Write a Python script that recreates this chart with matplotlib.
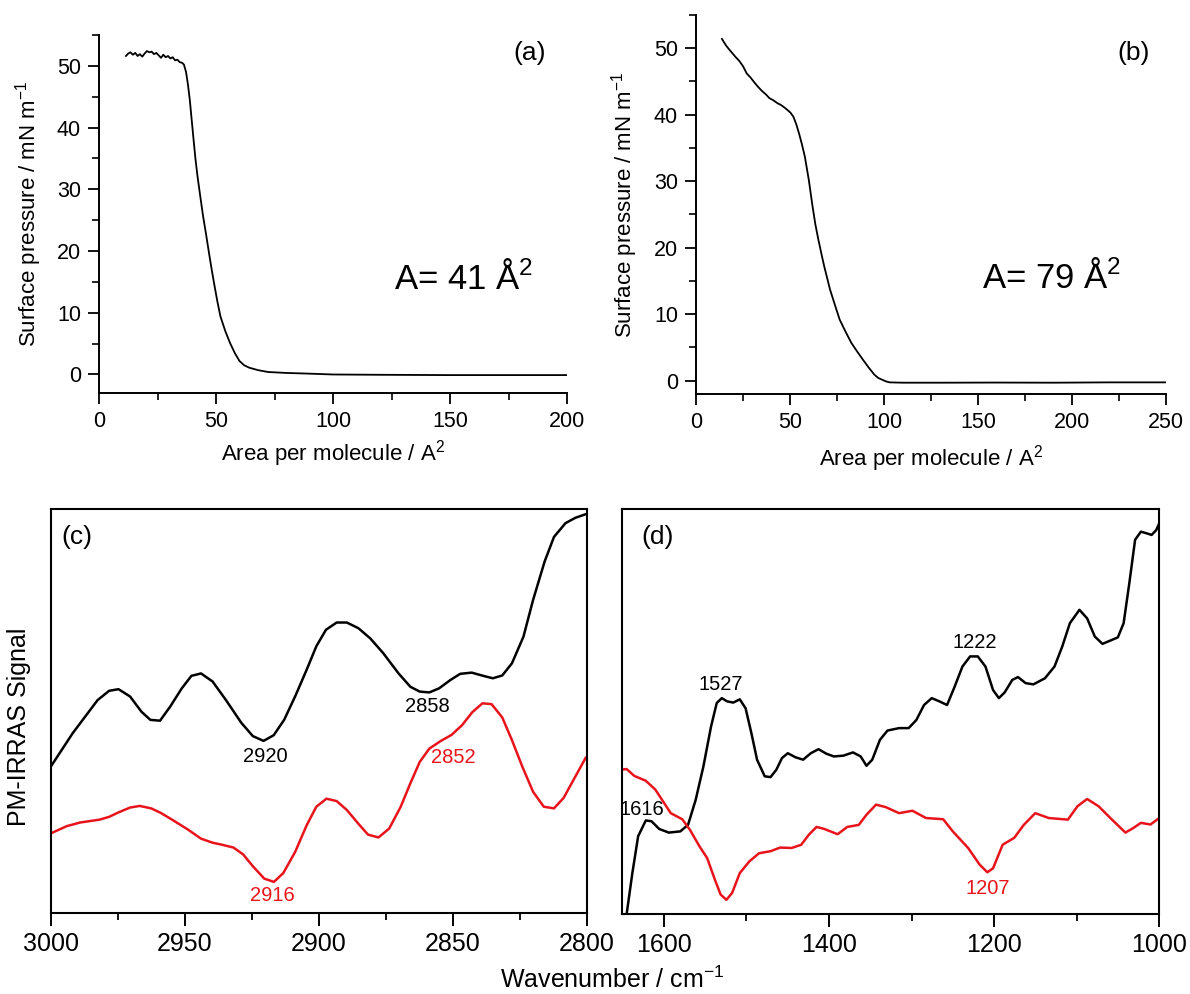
import matplotlib
matplotlib.use('Agg')
import matplotlib.pyplot as plt
from matplotlib.ticker import MultipleLocator

plt.rcParams['font.family'] = ['Liberation Sans', 'DejaVu Sans']
plt.rcParams['mathtext.fontset'] = 'custom'
plt.rcParams['mathtext.rm'] = 'Liberation Sans'
plt.rcParams['mathtext.it'] = 'Liberation Sans:italic'
plt.rcParams['mathtext.bf'] = 'Liberation Sans:bold'

RED = '#e8141c'

# ---------------- data ----------------
# (a) isotherm
area_a = [11.5, 12.5, 13.4, 14.5, 15.5, 16.5, 17.5, 18.5, 19.5, 20.5, 21.5, 22.5, 23.5,
          24.5, 25.5, 26.5, 27.5, 28.5, 29.5, 30.5, 31.5, 32.5, 33.5, 34.5, 35.5, 36.3,
          37.2, 38.0, 38.8, 39.6, 40.4, 41.2, 42.1, 43.3, 44.5, 45.8, 47.0, 48.2, 49.4,
          50.6, 51.9, 54.0, 56.0, 58.0, 60.0, 62.0, 64.2, 68.0, 72.3, 80.0, 88.7, 100,
          120, 150, 175, 200]
pres_a = [51.6, 52.0, 52.2, 51.8, 52.1, 51.6, 51.9, 51.5, 52.0, 52.4, 52.2, 52.3, 51.9,
          52.1, 51.7, 51.3, 51.8, 51.4, 51.6, 51.2, 51.4, 50.9, 51.0, 50.6, 50.5, 50.2,
          49.0, 47.0, 44.5, 41.3, 38.1, 35.0, 32.1, 28.8, 25.6, 22.6, 19.7, 16.9, 14.3,
          11.8, 9.4, 7.0, 5.1, 3.5, 2.2, 1.5, 1.1, 0.7, 0.4, 0.25, 0.15, 0.0,
          -0.05, -0.1, -0.1, -0.1]

# (b) isotherm
area_b = [13.8, 16, 18, 21, 23, 25, 27, 29, 31.2, 33, 35, 37.4, 39, 41, 43.5, 45, 47,
          48.7, 50.3, 51.8, 53.3, 54.8, 56.3, 57.9, 60, 62, 63.5, 65.1, 66.7, 68.2, 69.8,
          71.3, 74, 76.4, 79.5, 82.6, 85.7, 88.7, 91.8, 94.9, 97, 99, 101, 103, 110, 130,
          160, 190, 220, 250]
pres_b = [51.4, 50.4, 49.7, 48.7, 48.1, 47.3, 46.2, 45.6, 44.8, 44.2, 43.6, 43.0, 42.5,
          42.2, 41.7, 41.5, 41.1, 40.7, 40.3, 39.7, 38.6, 37.2, 35.6, 33.7, 30.2, 26.2,
          23.5, 21.2, 19.1, 17.2, 15.4, 13.7, 11.3, 9.2, 7.4, 5.7, 4.4, 3.2, 2.0, 0.9,
          0.4, 0.15, -0.1, -0.25, -0.3, -0.3, -0.28, -0.3, -0.25, -0.25]

# (c) CH stretching region
wn_c_black = [3000, 2991.8, 2982.5, 2978.2, 2974.7, 2970.4, 2966.1, 2962.8, 2959.2, 2955.4,
              2951.1, 2947.5, 2943.9, 2939.6, 2934.6, 2928.9, 2924.6, 2920.6, 2916.8, 2912.9,
              2908.8, 2904.5, 2900.9, 2897.3, 2893.3, 2889.5, 2885.2, 2880.8, 2875.9, 2870.2,
              2865.8, 2862.3, 2858.7, 2855.1, 2850.8, 2847.2, 2842.9, 2838.6, 2835.0, 2831.5,
              2827.9, 2823.6, 2820.0, 2815.7, 2812.2, 2807.9, 2804.3, 2800]
sig_c_black = [36.2, 44.5, 52.7, 55.0, 55.4, 53.6, 49.8, 47.8, 47.6, 51.1,
               55.6, 58.7, 59.3, 57.3, 52.7, 47.1, 43.8, 42.6, 44.0, 47.8,
               53.6, 60.2, 66.0, 70.1, 71.9, 71.9, 70.5, 68.0, 64.3, 59.3,
               56.0, 54.8, 54.6, 55.6, 57.7, 59.2, 59.5, 58.7, 58.1, 58.8,
               61.8, 68.4, 77.5, 87.0, 93.1, 96.5, 97.8, 98.8]
wn_c_red = [3000, 2994.0, 2989.0, 2981.8, 2978.2, 2974.7, 2970.4, 2966.8, 2962.5, 2959.0,
            2954.7, 2948.9, 2943.9, 2939.6, 2936.1, 2931.8, 2928.2, 2924.6, 2920.3, 2916.7,
            2913.2, 2908.8, 2904.5, 2900.9, 2897.1, 2893.3, 2889.5, 2885.2, 2881.6, 2877.7,
            2873.7, 2869.4, 2865.8, 2862.3, 2858.7, 2854.4, 2850.4, 2846.5, 2842.7, 2838.9,
            2835.5, 2831.5, 2827.9, 2824.0, 2820.0, 2816.0, 2812.2, 2808.6, 2804.3, 2800.4]
sig_c_red = [19.7, 21.5, 22.4, 23.1, 23.8, 24.9, 26.1, 26.5, 25.9, 24.8,
             23.1, 20.7, 18.4, 17.4, 16.9, 16.2, 14.5, 11.6, 8.5, 7.7,
             9.9, 15.1, 21.7, 26.3, 28.3, 27.7, 25.5, 22.1, 19.4, 18.7,
             20.9, 26.3, 32.1, 37.4, 40.7, 42.6, 44.1, 46.5, 49.7, 51.9,
             51.7, 48.4, 42.8, 36.2, 30.0, 26.3, 25.9, 28.5, 33.7, 38.4]

# (d) fingerprint region
wn_d_black = [1645, 1638.1, 1631.1, 1621.8, 1614.9, 1605.6, 1594.0, 1580.0, 1570.7, 1561.4,
              1552.1, 1542.8, 1535.9, 1529.8, 1523.3, 1515.9, 1508.0, 1501.0, 1494.0, 1487.1,
              1477.8, 1470.8, 1463.8, 1456.9, 1449.9, 1440.6, 1431.3, 1422.0, 1412.7, 1403.4,
              1394.1, 1382.5, 1370.9, 1361.6, 1354.6, 1347.6, 1338.3, 1329.1, 1315.1, 1303.5,
              1294.2, 1284.9, 1275.6, 1266.3, 1257.0, 1247.7, 1238.4, 1229.1, 1219.8, 1210.5,
              1201.3, 1194.3, 1187.3, 1178.0, 1171.1, 1161.8, 1152.5, 1138.5, 1126.9, 1117.6,
              1108.3, 1096.7, 1087.4, 1078.1, 1068.8, 1059.5, 1050.2, 1043.2, 1036.3, 1029.3,
              1022.3, 1015.4, 1009.3, 1003.7, 1000]
sig_d_black = [0.0, 10.1, 19.2, 23.1, 22.9, 21.0, 20.1, 20.4, 22.0, 28.2,
               36.4, 46.3, 52.1, 53.3, 52.5, 52.2, 53.0, 50.8, 44.7, 38.1,
               34.0, 33.8, 35.6, 38.5, 39.7, 38.7, 38.1, 39.7, 40.7, 39.6,
               38.9, 39.1, 39.9, 38.9, 36.6, 38.1, 43.0, 45.3, 45.9, 45.9,
               47.9, 51.6, 53.3, 52.5, 51.6, 56.2, 61.1, 63.6, 63.6, 61.1,
               55.3, 53.3, 54.7, 57.8, 58.5, 57.0, 56.7, 58.2, 61.1, 66.0,
               71.8, 75.1, 73.0, 68.5, 66.7, 67.5, 68.3, 71.8, 81.7, 92.4,
               94.4, 94.0, 93.6, 94.8, 96.5]
wn_d_red = [1653, 1645.1, 1635.8, 1621.8, 1610.2, 1600.9, 1591.6, 1577.7, 1568.4, 1556.8,
            1547.5, 1538.2, 1531.2, 1524.2, 1517.3, 1508.0, 1496.4, 1484.7, 1470.8, 1459.2,
            1445.2, 1433.6, 1424.3, 1415.0, 1405.7, 1389.5, 1377.8, 1363.9, 1354.6, 1343.0,
            1331.4, 1315.1, 1298.9, 1282.6, 1261.7, 1250.1, 1231.5, 1217.6, 1208.2, 1201.3,
            1189.7, 1175.7, 1164.1, 1150.2, 1133.9, 1110.7, 1099.1, 1087.4, 1073.5, 1057.3,
            1041.0, 1031.7, 1022.3, 1010.7, 1000]
sig_d_red = [35.6, 35.8, 34.1, 32.9, 30.7, 27.8, 24.9, 23.4, 20.8, 16.7,
             13.8, 8.5, 4.8, 3.5, 5.2, 10.1, 13.0, 15.0, 15.5, 16.4,
             16.3, 17.1, 19.6, 21.5, 21.0, 19.7, 21.5, 22.0, 24.5, 27.0,
             26.4, 24.9, 25.5, 23.7, 23.4, 20.4, 16.3, 12.2, 10.3, 11.3,
             17.1, 18.8, 22.0, 24.9, 23.7, 23.3, 26.6, 28.4, 26.6, 23.3,
             20.1, 21.2, 22.5, 22.1, 23.7]

# ---------------- figure ----------------
fig = plt.figure(figsize=(11.9, 9.94), dpi=100)

def px_axes(x0, y0, x1, y1):
    W, H = 1190, 994
    return fig.add_axes([x0 / W, (H - y1) / H, (x1 - x0) / W, (y1 - y0) / H])

ax_a = px_axes(99, 35, 567, 393)
ax_b = px_axes(696, 15, 1166, 394)
ax_c = px_axes(50.7, 509, 586.7, 913)
ax_d = px_axes(621.7, 509, 1159.3, 914)

# ---- top panels: isotherms ----
for ax, x, y, xmax, ymin, letter, area_txt, lab_pos, a_pos in [
        (ax_a, area_a, pres_a, 200, -3, '(a)', 'A= 41 Å$^{2}$', (0.921, 0.949), (126, 13.8)),
        (ax_b, area_b, pres_b, 250, -2, '(b)', 'A= 79 Å$^{2}$', (0.93, 0.899), (152, 13.9))]:
    ax.plot(x, y, color='black', lw=1.3)
    ax.set_xlim(0, xmax)
    ax.set_ylim(ymin, 55)
    ax.spines['top'].set_visible(False)
    ax.spines['right'].set_visible(False)
    for s in ('left', 'bottom'):
        ax.spines[s].set_linewidth(1.4)
    ax.xaxis.set_major_locator(MultipleLocator(50))
    ax.xaxis.set_minor_locator(MultipleLocator(25))
    ax.yaxis.set_major_locator(MultipleLocator(10))
    ax.yaxis.set_minor_locator(MultipleLocator(5))
    ax.tick_params(which='major', direction='out', length=8, width=1.3, labelsize=15.5, pad=5)
    ax.tick_params(which='minor', direction='out', length=5, width=1.2)
    ax.set_xlabel('Area per molecule / A$^{2}$', fontsize=16)
    ax.set_ylabel('Surface pressure / mN m$^{-1}$', fontsize=16)
    ax.text(*lab_pos, letter, transform=ax.transAxes, fontsize=19, ha='center', va='center')
    ax.text(*a_pos, area_txt, fontsize=25, ha='left', va='baseline')

ax_a.xaxis.set_label_coords(0.5, -0.125)
ax_b.xaxis.set_label_coords(0.5, -0.13)
ax_a.yaxis.set_label_coords(-0.117, 0.5)
ax_b.yaxis.set_label_coords(-0.12, 0.5)

# ---- bottom panels: PM-IRRAS ----
ax_c.plot(wn_c_black, sig_c_black, color='black', lw=1.8)
ax_c.plot(wn_c_red, sig_c_red, color=RED, lw=1.8)
ax_c.set_xlim(3000, 2800)
ax_c.xaxis.set_major_locator(MultipleLocator(50))
ax_c.xaxis.set_minor_locator(MultipleLocator(25))
ax_c.text(2919.8, 38.7, '2920', fontsize=14.5, ha='center', va='center')
ax_c.text(2859.4, 51.1, '2858', fontsize=14.5, ha='center', va='center')
ax_c.text(2849.8, 38.4, '2852', fontsize=14.5, ha='center', va='center', color=RED)
ax_c.text(2917.1, 4.4, '2916', fontsize=14.5, ha='center', va='center', color=RED)
ax_c.text(0.02, 0.93, '(c)', transform=ax_c.transAxes, fontsize=19, ha='left', va='center')
ax_c.set_ylabel('PM-IRRAS Signal', fontsize=18)
ax_c.yaxis.set_label_coords(-0.037, 0.46)

ax_d.plot(wn_d_black, sig_d_black, color='black', lw=1.8)
ax_d.plot(wn_d_red, sig_d_red, color=RED, lw=1.8)
ax_d.set_xlim(1651, 1000)
ax_d.xaxis.set_major_locator(MultipleLocator(200))
ax_d.xaxis.set_minor_locator(MultipleLocator(100))
ax_d.text(1531, 56.7, '1527', fontsize=14.5, ha='center', va='center')
ax_d.text(1223, 67.0, '1222', fontsize=14.5, ha='center', va='center')
ax_d.text(1626.5, 25.7, '1616', fontsize=14.5, ha='center', va='center')
ax_d.text(1208, 6.4, '1207', fontsize=14.5, ha='center', va='center', color=RED)
ax_d.text(0.036, 0.93, '(d)', transform=ax_d.transAxes, fontsize=19, ha='left', va='center')

for ax in (ax_c, ax_d):
    ax.set_ylim(0, 100)
    ax.set_yticks([])
    for s in ax.spines.values():
        s.set_linewidth(1.5)
    ax.tick_params(which='major', direction='out', length=9, width=1.4, labelsize=18, pad=5)
    ax.tick_params(which='minor', direction='out', length=5, width=1.3)

fig.text(612 / 1190, (994 - 988) / 994, 'Wavenumber / cm$^{-1}$', fontsize=18,
         ha='center', va='baseline')

plt.savefig('out.png', dpi=100)
